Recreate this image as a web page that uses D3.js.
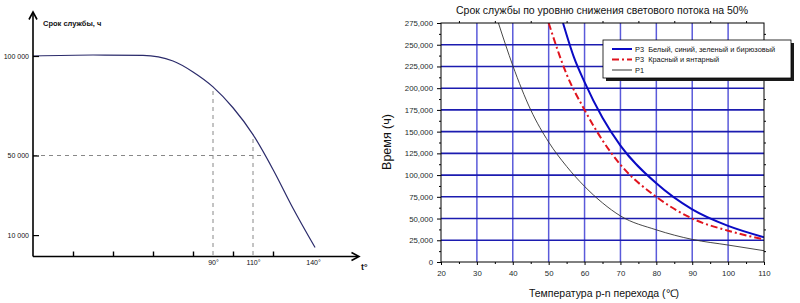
<!DOCTYPE html>
<html>
<head>
<meta charset="utf-8">
<script src="https://cdn.jsdelivr.net/npm/d3@7"></script>
<style>
  body { margin: 0; background: #fff; }
  svg { display: block; font-family: "Liberation Sans", Arial, sans-serif; }
</style>
</head>
<body>
<svg id="chart" width="800" height="303"></svg>
<script>
// ---- left chart: schematic life vs temperature ----
const leftTemps = [0, 30, 55, 70, 80, 90, 100, 110, 120, 130, 141];
const leftHours = [100000, 100500, 100300, 97500, 92000, 84500, 74000, 60500, 43000, 23500, 3800];
const leftYTicks = [10000, 50000, 100000];
const leftXTicks = [20, 40, 60, 80, 100, 120];
const leftXLabels = [90, 110, 140];
const guideTemps = [90, 110];
const guideHours = [84500, 60500];
const guideLevel = 50000;
const guideLevelTemp = 115.5;

// ---- right chart: life at 50% lumen depreciation ----
const tempTicks = [20, 30, 40, 50, 60, 70, 80, 90, 100, 110];
const hourTicks = [0, 25000, 50000, 75000, 100000, 125000, 150000, 175000, 200000, 225000, 250000, 275000];
const blueTemps = [54, 57, 60, 65, 70, 80, 90, 100, 110];
const blueHours = [275000, 236000, 207000, 166000, 134000, 90500, 60500, 41500, 28500];
const redTemps = [50, 55, 60, 65, 70, 80, 90, 100, 110];
const redHours = [275000, 216000, 175000, 140000, 112000, 75000, 50000, 36000, 26000];
const p1Temps = [36, 40, 45, 50, 55, 60, 65, 70, 80, 90, 100, 110];
const p1Hours = [275000, 226000, 175000, 138000, 110000, 87000, 68000, 53000, 37000, 26000, 19500, 13000];
const legendNames = ["P3  Белый, синий, зеленый и бирюзовый", "P3  Красный и янтарный", "P1"];

const svg = d3.select("#chart");

// ================= left =================
let lx = d3.scaleLinear().domain([0, 140]).range([33, 313]);
let ly = d3.scaleLinear().domain([0, 100000]).range([255, 56]);
let left = svg.append("g");

// dashed guides
left.selectAll(".vguide").data(guideTemps).enter().append("line")
    .attr("x1", d => lx(d)).attr("x2", d => lx(d))
    .attr("y1", ly(0)).attr("y2", (d, i) => ly(guideHours[i]))
    .attr("stroke", "#888").attr("stroke-width", 1).attr("stroke-dasharray", "4,4");
left.append("line")
    .attr("x1", lx(0)).attr("x2", lx(guideLevelTemp))
    .attr("y1", ly(guideLevel)).attr("y2", ly(guideLevel))
    .attr("stroke", "#888").attr("stroke-width", 1).attr("stroke-dasharray", "4,4");

// curve
let leftLine = d3.line().x(d => lx(d[0])).y(d => ly(d[1])).curve(d3.curveMonotoneX);
left.append("path")
    .datum(leftTemps.map((t, i) => [t, leftHours[i]]))
    .attr("d", leftLine)
    .attr("fill", "none").attr("stroke", "#2b2b6b").attr("stroke-width", 1.2);

// axes lines with arrows
left.append("line").attr("x1", 33).attr("x2", 33).attr("y1", 256.5).attr("y2", 12)
    .attr("stroke", "#000").attr("stroke-width", 1.6);
left.append("path").attr("d", "M29,19.5L33,12L37,19.5").attr("fill", "none")
    .attr("stroke", "#000").attr("stroke-width", 1.6);
left.append("line").attr("x1", 33).attr("x2", 358).attr("y1", 256.5).attr("y2", 256.5)
    .attr("stroke", "#000").attr("stroke-width", 1.6);
left.append("path").attr("d", "M351.5,252.5L359,256.5L351.5,260.5").attr("fill", "none")
    .attr("stroke", "#000").attr("stroke-width", 1.6);

let lyAxis = left.append("g").attr("transform", "translate(33,0)")
    .call(d3.axisLeft(ly).tickValues(leftYTicks).tickSizeInner(-6).tickSizeOuter(0).tickPadding(4)
        .tickFormat(d => d3.format(",")(d).replace(",", " ")));
lyAxis.select(".domain").remove();
lyAxis.selectAll("line").attr("stroke", "#000").attr("stroke-width", 1.2);
lyAxis.selectAll("text").attr("font-size", "7px").attr("fill", "#111").attr("font-family", "Liberation Sans, Arial, sans-serif");

let lxAxis = left.append("g").attr("transform", "translate(0,256.5)")
    .call(d3.axisBottom(lx).tickValues(leftXTicks).tickSizeInner(-5).tickSizeOuter(0).tickFormat(""));
lxAxis.select(".domain").remove();
lxAxis.selectAll("line").attr("stroke", "#000").attr("stroke-width", 1.4);

let lxLab = left.append("g").attr("transform", "translate(0,256.5)")
    .call(d3.axisBottom(lx).tickValues(leftXLabels).tickSize(0).tickPadding(4).tickFormat(d => d + "°"));
lxLab.select(".domain").remove();
lxLab.selectAll("text").attr("font-size", "7px").attr("fill", "#111").attr("font-family", "Liberation Sans, Arial, sans-serif");

left.append("text").attr("x", 43).attr("y", 25.5).attr("font-size", "7.5px").attr("font-weight", "bold")
    .attr("fill", "#111").text("Срок службы, ч");
left.append("text").attr("x", 361).attr("y", 270).attr("font-size", "9px").attr("font-weight", "bold")
    .attr("fill", "#111").text("t°");

// ================= right =================
let x = d3.scaleLinear().domain([20, 110]).range([441, 764]);
let y = d3.scaleLinear().domain([0, 275000]).range([262, 23]);
let right = svg.append("g");

// grid
right.selectAll(".vgrid").data(tempTicks.slice(1, -1)).enter().append("line")
    .attr("x1", d => x(d)).attr("x2", d => x(d)).attr("y1", y(0)).attr("y2", y(275000))
    .attr("stroke", "#5a5ada").attr("stroke-width", 1.5);
right.selectAll(".hgrid").data(hourTicks.slice(1, -1)).enter().append("line")
    .attr("x1", x(20)).attr("x2", x(110)).attr("y1", d => y(d)).attr("y2", d => y(d))
    .attr("stroke", "#1c1cb0").attr("stroke-width", 1.6);

// curves
right.append("clipPath").attr("id", "plotclip").append("rect")
    .attr("x", x(20)).attr("y", y(275000)).attr("width", x(110) - x(20)).attr("height", y(0) - y(275000));
let line = d3.line().x(d => x(d[0])).y(d => y(d[1])).curve(d3.curveMonotoneX);
let curves = right.append("g").attr("clip-path", "url(#plotclip)");
curves.append("path").datum(p1Temps.map((t, i) => [t, p1Hours[i]])).attr("d", line)
    .attr("fill", "none").attr("stroke", "#333").attr("stroke-width", 0.9);
curves.append("path").datum(redTemps.map((t, i) => [t, redHours[i]])).attr("d", line)
    .attr("fill", "none").attr("stroke", "#e0141e").attr("stroke-width", 2).attr("stroke-dasharray", "7,3,2,3");
curves.append("path").datum(blueTemps.map((t, i) => [t, blueHours[i]])).attr("d", line)
    .attr("fill", "none").attr("stroke", "#0a0ac4").attr("stroke-width", 2);

// frame
right.append("rect").attr("x", x(20)).attr("y", y(275000))
    .attr("width", x(110) - x(20)).attr("height", y(0) - y(275000))
    .attr("fill", "none").attr("stroke", "#000").attr("stroke-width", 1);

let minorHours = hourTicks.slice(0, -1).map(d => d + 12500);
let minorTemps = tempTicks.slice(0, -1).map(d => d + 5);

function styleAxis(g, size) {
    g.select(".domain").remove();
    g.selectAll("line").attr("stroke", "#000");
    g.selectAll("text").attr("font-size", size).attr("fill", "#1d2b2b").attr("font-family", "Liberation Sans, Arial, sans-serif");
}

styleAxis(right.append("g").attr("transform", `translate(${x(20)},0)`)
    .call(d3.axisLeft(y).tickValues(hourTicks).tickSize(4).tickPadding(4).tickFormat(d3.format(","))), "7.8px");
styleAxis(right.append("g").attr("transform", `translate(${x(20)},0)`)
    .call(d3.axisLeft(y).tickValues(minorHours).tickSize(2).tickFormat("")), "0");
styleAxis(right.append("g").attr("transform", `translate(${x(110)},0)`)
    .call(d3.axisRight(y).tickValues(minorHours).tickSize(2).tickFormat("")), "0");
styleAxis(right.append("g").attr("transform", `translate(0,${y(0)})`)
    .call(d3.axisBottom(x).tickValues(tempTicks).tickSize(3).tickPadding(5)), "7.8px");
styleAxis(right.append("g").attr("transform", `translate(0,${y(0)})`)
    .call(d3.axisBottom(x).tickValues(minorTemps).tickSize(2).tickFormat("")), "0");
styleAxis(right.append("g").attr("transform", `translate(0,${y(275000)})`)
    .call(d3.axisTop(x).tickValues(minorTemps).tickSize(2).tickFormat("")), "0");

// titles
right.append("text").attr("x", 602).attr("y", 14).attr("text-anchor", "middle")
    .attr("font-size", "10.5px").attr("fill", "#111")
    .text("Срок службы по уровню снижения светового потока на 50%");
right.append("text").attr("transform", "translate(391,142) rotate(-90)").attr("text-anchor", "middle")
    .attr("font-size", "12.5px").attr("fill", "#111").text("Время (ч)");
right.append("text").attr("x", 604).attr("y", 297).attr("text-anchor", "middle")
    .attr("font-size", "10.5px").attr("fill", "#111").text("Температура p-n перехода (℃)");

// legend
let lg = right.append("g").attr("transform", "translate(603,40)");
lg.append("rect").attr("x", 3).attr("y", 3).attr("width", 188).attr("height", 38).attr("fill", "#1a1a1a");
lg.append("rect").attr("x", 0).attr("y", 0).attr("width", 188).attr("height", 38)
    .attr("fill", "#fff").attr("stroke", "#000").attr("stroke-width", 0.8);
let legendStyles = [
    { stroke: "#0a0ac4", width: 2, dash: null },
    { stroke: "#e0141e", width: 2, dash: "7,3,2,3" },
    { stroke: "#555", width: 1.2, dash: null }
];
let items = lg.selectAll(".item").data(legendNames).enter().append("g")
    .attr("transform", (d, i) => `translate(0,${9 + i * 10.5})`);
items.append("line").attr("x1", 9).attr("x2", 29).attr("y1", 0).attr("y2", 0)
    .attr("stroke", (d, i) => legendStyles[i].stroke)
    .attr("stroke-width", (d, i) => legendStyles[i].width)
    .attr("stroke-dasharray", (d, i) => legendStyles[i].dash);
items.append("text").attr("x", 32).attr("y", 2.6).attr("font-size", "7.4px").attr("fill", "#111")
    .attr("xml:space", "preserve").style("white-space", "pre").text(d => d);
</script>
</body>
</html>
